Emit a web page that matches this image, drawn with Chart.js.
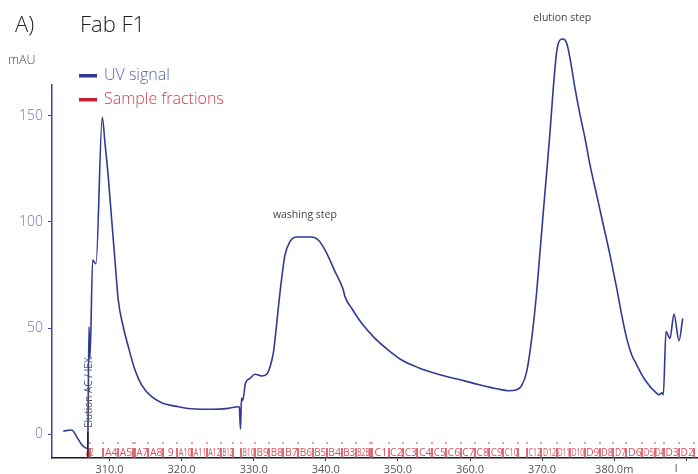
<!DOCTYPE html>
<html>
<head>
<meta charset="utf-8">
<script src="https://cdn.jsdelivr.net/npm/chart.js@4.4.1/dist/chart.umd.min.js"></script>
<style>
  html, body { margin: 0; padding: 0; background: #ffffff; }
  #wrap { width: 698px; height: 474px; position: relative; }
</style>
</head>
<body>
<div id="wrap"><canvas id="c" width="698" height="474"></canvas></div>
<script>
// ---- data (volume in ml, UV in mAU) ----
const uvVolume = [303.59, 304.76, 305.45, 306.19, 306.84, 306.98, 307.16, 307.30, 307.67, 308.13,
  309.0, 309.38, 309.83, 310.31, 310.76, 311.22, 311.91, 312.61, 313.54, 314.47,
  315.85, 317.24, 319.54, 321.86, 324.17, 326.48, 327.86, 328.0, 328.17, 328.31,
  328.47, 328.86, 329.49, 330.18, 331.11, 331.8, 332.26, 332.72, 332.95, 333.41,
  333.88, 334.34, 335.03, 335.96, 338.04, 338.96, 339.89, 341.28, 342.43, 342.66,
  343.59, 344.98, 346.82, 348.67, 350.53, 352.83, 355.6, 358.38, 361.15, 363.93,
  365.31, 366.48, 367.17, 367.86, 368.56, 369.25, 369.71, 370.17, 370.64, 371.1,
  371.55, 372.02, 372.48, 372.94, 373.41, 373.87, 374.56, 375.26, 375.95, 376.64,
  377.57, 378.49, 379.42, 380.35, 381.04, 381.73, 382.43, 382.89, 384.27, 385.9,
  386.26, 386.59, 386.81, 387.18, 387.73, 388.29, 388.98, 389.5];
const uvSignal = [1.4, 1.9, -1.3, -5.2, -6.7, -6.1, 50.6, 35.8, 82.1, 80.2,
  149.4, 137.1, 121.4, 100.9, 82.1, 63.2, 50.6, 41.2, 30.2, 23.1,
  17.6, 14.8, 12.9, 11.8, 11.7, 12.1, 12.9, 12.7, 2.4, 17.0,
  15.7, 23.9, 26.3, 28.2, 27.4, 28.2, 31.6, 38.1, 44.3, 59.3,
  73.4, 84.4, 90.7, 92.9, 92.9, 91.5, 86.8, 76.6, 67.9, 64.8,
  59.3, 52.2, 45.1, 39.6, 34.9, 31.3, 28.2, 25.8, 23.4, 21.2,
  20.4, 20.9, 22.8, 29.4, 45.1, 67.1, 86.0, 104.9, 123.7, 142.6,
  163.1, 180.3, 185.8, 186.3, 184.3, 177.2, 163.1, 150.5, 139.5, 126.9,
  112.7, 98.6, 84.4, 68.7, 56.1, 45.1, 37.3, 34.1, 25.5, 19.2,
  18.5, 19.5, 18.5, 48.3, 45.1, 56.6, 44.0, 54.6];

// fraction boundaries (ml) and the label shown for the fraction starting there
const fractionVolume = [307.06, 307.30, 309.14, 311.22, 313.22, 313.54, 315.38, 317.46, 319.40, 321.48,
  323.48, 325.46, 327.17, 328.24, 330.18, 332.17, 334.11, 336.19, 338.18, 340.12,
  342.2, 344.15, 346.13, 346.45, 348.7, 350.75, 352.69, 354.77, 356.67, 358.71,
  360.69, 362.68, 364.62, 366.70, 367.9, 369.9, 372.0, 373.9, 375.9, 378.0,
  379.9, 381.7, 383.9, 385.6, 386.9, 389.0, 391.1];
const fractionLabel = ["A2", "", "A4", "A5", "", "A7", "A8", "9", "A10", "A11",
  "A12", "B12", "", "B10", "B9", "B8", "B7", "B6", "B5", "B4",
  "B3", "B2B", "", "C1", "C2", "C3", "C4", "C5", "C6", "C7",
  "C8", "C9", "C10", "", "C12", "D12", "D11", "D10", "D9", "D8",
  "D7", "D6", "D5", "D4", "D3", "D2"];

const xTickValues = [310, 320, 330, 340, 350, 360, 370, 380, 390];
const xTickLabels = ["310.0", "320.0", "330.0", "340.0", "350.0", "360.0", "370.0", "380.0m", ""];
const yTickValues = [0, 50, 100, 150];
const yTickLabels = ["0", "50", "100", "150"];

const eventVolume = [307.0];
const eventText = ["Elution AC / IEX"];

const noteText = ["washing step", "elution step"];
const noteVolume = [337.1, 372.8];
const noteSignal = [103.3, 196.2];

const unitTailVolume = 388.6;

// ---- styling ----
const UV_COLOR = '#2f3b93';
const RED = '#d23d49';
const FONT = "'Open Sans', 'DejaVu Sans', sans-serif";

const overlay = {
  id: 'overlay',
  afterDraw(chart) {
    const { ctx, chartArea } = chart;
    const x = chart.scales.x, y = chart.scales.y;
    const bottom = chartArea.bottom;
    ctx.save();

    // title
    ctx.fillStyle = '#222';
    ctx.textBaseline = 'alphabetic';
    ctx.textAlign = 'left';
    ctx.font = "300 22px " + FONT;
    ctx.fillText('A)', 15, 32);
    ctx.fillText('Fab F1', 80, 32);

    // unit
    ctx.fillStyle = '#444';
    ctx.font = "300 12.5px " + FONT;
    ctx.fillText('mAU', 8, 64);

    // legend
    ctx.fillStyle = UV_COLOR;
    ctx.fillRect(79, 74, 18, 3.5);
    ctx.fillStyle = '#c8202f';
    ctx.fillRect(79, 98, 18, 3.5);
    ctx.textBaseline = 'middle';
    ctx.font = "300 16px " + FONT;
    ctx.fillStyle = '#5a62ac';
    ctx.fillText('UV signal', 104, 75.5);
    ctx.fillStyle = '#d63c48';
    ctx.fillText('Sample fractions', 104, 99.5);

    // annotations
    ctx.fillStyle = '#444';
    ctx.textAlign = 'center';
    ctx.font = "10.5px " + FONT;
    noteText.forEach((t, i) => {
      ctx.fillText(t, x.getPixelForValue(noteVolume[i]), y.getPixelForValue(noteSignal[i]));
    });

    // fractions
    const px = fractionVolume.map(v => x.getPixelForValue(v));
    ctx.fillStyle = RED;
    px.forEach(p => {
      ctx.fillRect(Math.round(p) - 0.5, bottom - 16, 1, 2);
      ctx.fillRect(Math.round(p) - 0.75, bottom - 10, 1.5, 10);
    });
    ctx.font = "10.5px " + FONT;
    ctx.fillStyle = '#d9505b';
    ctx.textAlign = 'center';
    ctx.textBaseline = 'middle';
    fractionLabel.forEach((t, i) => {
      if (!t) return;
      const w = Math.max(px[i + 1] - px[i] - 2, 8);
      ctx.fillText(t, (px[i] + px[i + 1]) / 2 + 0.5, bottom - 5, w);
    });

    // event
    eventVolume.forEach((v, i) => {
      const ex = x.getPixelForValue(v);
      ctx.strokeStyle = '#222';
      ctx.lineWidth = 1.5;
      ctx.beginPath();
      ctx.moveTo(ex, bottom - 26);
      ctx.lineTo(ex, bottom);
      ctx.stroke();
      ctx.save();
      ctx.translate(ex + 1.5, bottom - 30);
      ctx.rotate(-Math.PI / 2);
      ctx.fillStyle = '#555';
      ctx.font = "10px " + FONT;
      ctx.textAlign = 'left';
      ctx.textBaseline = 'middle';
      ctx.fillText(eventText[i], 0, 0);
      ctx.restore();
    });

    // unit tail on x axis
    ctx.fillStyle = '#555';
    ctx.font = "11px " + FONT;
    ctx.textAlign = 'center';
    ctx.textBaseline = 'top';
    ctx.fillText('l', x.getPixelForValue(unitTailVolume), bottom + 5);

    ctx.restore();
  }
};

new Chart(document.getElementById('c'), {
  type: 'line',
  data: {
    datasets: [{
      label: 'UV signal',
      data: uvVolume.map((v, i) => ({ x: v, y: uvSignal[i] })),
      borderColor: UV_COLOR,
      borderWidth: 1.6,
      pointRadius: 0,
      fill: false,
      cubicInterpolationMode: 'monotone',
      clip: false
    }]
  },
  options: {
    responsive: false,
    animation: false,
    devicePixelRatio: 1,
    layout: { padding: { top: 85, right: 1, left: 0, bottom: 0 } },
    plugins: { legend: { display: false }, title: { display: false }, tooltip: { enabled: false } },
    scales: {
      x: {
        type: 'linear',
        min: 302.03,
        max: 391.48,
        afterBuildTicks: s => { s.ticks = xTickValues.map(v => ({ value: v })); },
        afterFit: s => { s.height = 16; },
        border: { display: true, color: '#1a1a1a', width: 1.5 },
        grid: { display: true, drawOnChartArea: false, drawTicks: true, tickLength: 3, color: '#333' },
        ticks: {
          autoSkip: false,
          maxRotation: 0,
          padding: 2,
          color: '#555',
          font: { family: FONT, size: 11 },
          callback: (v) => { const i = xTickValues.indexOf(v); return i >= 0 ? xTickLabels[i] : ''; }
        }
      },
      y: {
        type: 'linear',
        min: -11.3,
        max: 164.6,
        afterBuildTicks: s => { s.ticks = yTickValues.map(v => ({ value: v })); },
        afterFit: s => { s.width = 52; },
        border: { display: true, color: '#3a44a0', width: 1.5 },
        grid: { display: true, drawOnChartArea: false, drawTicks: true, tickLength: 4, color: '#3a44a0' },
        ticks: {
          padding: 5,
          color: '#6a72b2',
          font: { family: FONT, size: 14, weight: '300' },
          callback: (v) => { const i = yTickValues.indexOf(v); return i >= 0 ? yTickLabels[i] : ''; }
        }
      }
    }
  },
  plugins: [overlay]
});
</script>
</body>
</html>
